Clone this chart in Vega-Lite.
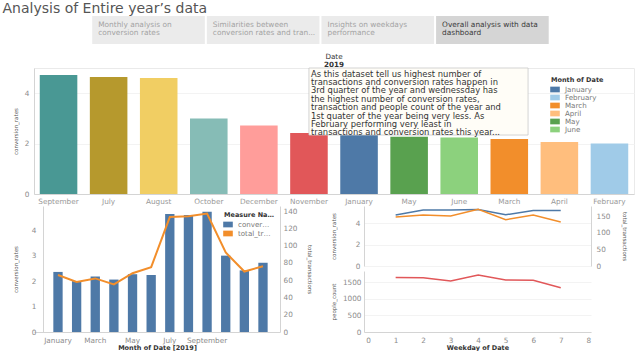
{
  "$schema": "https://vega.github.io/schema/vega-lite/v6.json",
  "padding": {"left": 2, "top": 1, "right": 2, "bottom": 0},
  "title": {"text": "Analysis of Entire year’s data", "anchor": "start", "fontSize": 14, "fontWeight": "normal", "color": "#555555", "dx": -10, "offset": 0},
  "config": {
    "font": "DejaVu Sans",
    "view": {"stroke": null},
    "axis": {"labelFontSize": 7.3, "labelColor": "#8c8c8c", "titleFontSize": 5.5, "titleColor": "#555555", "titleFontWeight": "normal", "ticks": false, "domainColor": "#d4d4d4", "gridColor": "#f3f3f3", "labelPadding": 3},
    "legend": {"titleFontSize": 6.5, "titleFontWeight": "bold", "titleColor": "#333333", "labelFontSize": 7.1, "labelColor": "#777777", "symbolType": "M-1.6,-0.95H1.6V0.95H-1.6Z", "labelOffset": 6},
    "title": {"font": "DejaVu Sans"}
  },
  "resolve": {"scale": {"color": "independent", "fill": "independent"}, "legend": {"color": "independent", "fill": "independent"}},
  "datasets": {
    "tabs": [
      {"label": "Monthly analysis on\nconversion rates", "active": "no"},
      {"label": "Similarities between\nconversion rates and tran...", "active": "no"},
      {"label": "Insights on weekdays\nperformance", "active": "no"},
      {"label": "Overall analysis  with data\ndashboard", "active": "yes"}
    ],
    "note": [
      {"note": "As this dataset tell us highest number of\ntransactions and conversion rates happen in\n3rd quarter of the year and wednessday has\nthe highest number of  conversion rates,\ntransaction and people count of the year and\n1st quater of the year being very less. As\nFebruary performing very least in\ntransactions and conversion rates this year..."}
    ],
    "months": [
      {"month": "January", "conv": 2.36, "trans": 66},
      {"month": "February", "conv": 2.0, "trans": 58},
      {"month": "March", "conv": 2.18, "trans": 62},
      {"month": "April", "conv": 2.06, "trans": 55},
      {"month": "May", "conv": 2.27, "trans": 68},
      {"month": "June", "conv": 2.24, "trans": 75},
      {"month": "July", "conv": 4.64, "trans": 133},
      {"month": "August", "conv": 4.6, "trans": 134},
      {"month": "September", "conv": 4.72, "trans": 137},
      {"month": "October", "conv": 3.0, "trans": 92},
      {"month": "November", "conv": 2.42, "trans": 70},
      {"month": "December", "conv": 2.72, "trans": 76}
    ],
    "weekdays": [
      {"weekday": 1, "conv": 4.78, "trans": 147, "people": 1648},
      {"weekday": 2, "conv": 5.25, "trans": 153, "people": 1638},
      {"weekday": 3, "conv": 5.25, "trans": 150, "people": 1537},
      {"weekday": 4, "conv": 5.3, "trans": 170, "people": 1722},
      {"weekday": 5, "conv": 4.8, "trans": 139, "people": 1571},
      {"weekday": 6, "conv": 5.2, "trans": 153, "people": 1560},
      {"weekday": 7, "conv": 5.2, "trans": 132, "people": 1338}
    ]
  },
  "spacing": 1,
  "vconcat": [
    {
      "width": 600,
      "height": 34,
      "view": {"stroke": "transparent"},
      "data": {"name": "tabs"},
      "encoding": {
        "x": {"field": "label", "type": "nominal", "sort": null, "axis": null, "scale": {"paddingInner": 0.0175, "paddingOuter": 0.6258, "align": 0.4056}}
      },
      "layer": [
        {
          "mark": {"type": "rect"},
          "encoding": {
            "y": {"datum": "row", "type": "nominal", "axis": null, "scale": {"paddingInner": 0, "paddingOuter": 0.107, "align": 0}},
            "fill": {"field": "active", "type": "nominal", "scale": {"domain": ["no", "yes"], "range": ["#ebebeb", "#d5d5d5"]}, "legend": null}
          }
        },
        {
          "mark": {"type": "text", "align": "left", "baseline": "top", "fontSize": 7.4, "lineHeight": 8, "lineBreak": "\n", "dx": 6, "dy": 5},
          "encoding": {
            "x": {"field": "label", "type": "nominal", "sort": null, "bandPosition": 0},
            "y": {"datum": "row", "type": "nominal", "bandPosition": 0},
            "text": {"field": "label"},
            "color": {"field": "active", "type": "nominal", "scale": {"domain": ["no", "yes"], "range": ["#a3a3a3", "#3a3a3a"]}, "legend": null}
          }
        }
      ],
      "resolve": {"scale": {"color": "independent", "fill": "independent"}}
    },
    {
      "width": 600,
      "height": 126,
      "view": {"stroke": "#eaeaea"},
      "title": {"text": "Date", "subtitle": "2019", "anchor": "middle", "frame": "group", "fontSize": 7.2, "fontWeight": "normal", "color": "#333333", "subtitleFontSize": 7.2, "subtitleFontWeight": "bold", "subtitleColor": "#333333", "subtitlePadding": 1, "offset": -1},
      "layer": [
        {
          "data": {"name": "months"},
          "mark": {"type": "bar"},
          "encoding": {
            "x": {"field": "month", "type": "nominal", "sort": ["September", "July", "August", "October", "December", "November", "January", "May", "June", "March", "April", "February"], "scale": {"paddingInner": 0.25, "paddingOuter": 0.115}, "axis": {"title": null, "labelAngle": 0, "labelColor": "#999999", "labelPadding": 3}},
            "y": {"field": "conv", "type": "quantitative", "scale": {"domain": [0, 5], "nice": false}, "axis": {"title": "conversion_rates", "values": [0, 1, 2, 3, 4], "minExtent": 10, "maxExtent": 10, "titlePadding": 6, "labelPadding": 5, "grid": true}},
            "color": {"field": "month", "type": "nominal", "scale": {"domain": ["January", "February", "March", "April", "May", "June", "July", "August", "September", "October", "November", "December"], "range": ["#4e79a7", "#a0cbe8", "#f28e2b", "#ffbe7d", "#59a14f", "#8cd17d", "#b6992d", "#f1ce63", "#499894", "#86bcb6", "#e15759", "#ff9d9a"]}, "legend": {"title": "Month of Date", "orient": "none", "legendX": 517, "legendY": 9, "values": ["January", "February", "March", "April", "May", "June"], "symbolSize": 36, "rowPadding": 0, "titlePadding": 2}}
          }
        },
        {
          "data": {"name": "note"},
          "mark": {"type": "rect", "fill": "#fffdf7", "stroke": "#c8c8c8", "strokeWidth": 0.8},
          "encoding": {
            "x": {"datum": "November", "type": "nominal", "bandPosition": 0.5},
            "x2": {"datum": "March", "bandPosition": 1},
            "y": {"datum": 5, "type": "quantitative"},
            "y2": {"datum": 2.34}
          }
        },
        {
          "data": {"name": "note"},
          "mark": {"type": "text", "align": "left", "baseline": "top", "fontSize": 8.4, "lineHeight": 8.4, "lineBreak": "\n", "color": "#333333", "dx": 2, "dy": 1.5},
          "encoding": {
            "x": {"datum": "November", "type": "nominal", "bandPosition": 0.5},
            "y": {"datum": 5, "type": "quantitative"},
            "text": {"field": "note"}
          }
        }
      ]
    },
    {
      "spacing": 20,
      "resolve": {"scale": {"color": "independent"}, "legend": {"color": "independent"}},
      "hconcat": [
        {
          "width": 246,
          "height": 126,
          "data": {"name": "months"},
          "encoding": {
            "x": {"field": "month", "type": "nominal", "sort": ["January", "February", "March", "April", "May", "June", "July", "August", "September", "October", "November", "December"], "scale": {"paddingInner": 0.5, "paddingOuter": 0.85, "align": 0.61}, "axis": {"title": "Month of Date [2019]", "values": ["January", "March", "May", "July", "September"], "labelAngle": 0, "labelPadding": 4, "titlePadding": 1, "titleFontSize": 6.5, "titleFontWeight": "bold", "titleColor": "#333333"}}
          },
          "layer": [
            {
              "mark": {"type": "bar"},
              "encoding": {
                "y": {"field": "conv", "type": "quantitative", "scale": {"domain": [0, 4.95], "nice": false}, "axis": {"title": "conversion_rates", "values": [0, 1, 2, 3, 4], "offset": -9, "minExtent": 17, "maxExtent": 17, "titlePadding": 8, "labelPadding": 7, "grid": false}},
                "color": {"datum": "conversion_rates", "scale": {"domain": ["conversion_rates", "total_transactions"], "range": ["#4e79a7", "#f28e2b"]}, "legend": {"title": "Measure Names", "orient": "top-right", "offset": 6, "titleLimit": 50, "labelLimit": 33, "symbolSize": 36, "rowPadding": 1, "titlePadding": 2}}
              }
            },
            {
              "mark": {"type": "line", "color": "#f28e2b", "strokeWidth": 2},
              "encoding": {
                "y": {"field": "trans", "type": "quantitative", "scale": {"domain": [0, 145.8], "nice": false}, "axis": {"orient": "right", "title": "total_transactions", "values": [0, 20, 40, 60, 80, 100, 120, 140], "minExtent": 18, "maxExtent": 18, "titlePadding": 8, "labelPadding": 3, "grid": false}}
              }
            }
          ],
          "resolve": {"scale": {"y": "independent"}}
        },
        {
          "spacing": 5,
          "bounds": "flush",
          "vconcat": [
            {
              "width": 227,
              "height": 60,
              "data": {"name": "weekdays"},
              "encoding": {
                "x": {"field": "weekday", "type": "quantitative", "scale": {"domain": [-0.15, 8.1], "nice": false}, "axis": null}
              },
              "layer": [
                {
                  "mark": {"type": "line", "color": "#4e79a7", "strokeWidth": 1.5},
                  "encoding": {
                    "y": {"field": "conv", "type": "quantitative", "scale": {"domain": [0, 5.62], "nice": false}, "axis": {"title": "conversion_rates", "values": [0, 2, 4], "minExtent": 20, "maxExtent": 20, "titlePadding": 8, "labelPadding": 4}}
                  }
                },
                {
                  "mark": {"type": "line", "color": "#f28e2b", "strokeWidth": 1.5},
                  "encoding": {
                    "y": {"field": "trans", "type": "quantitative", "scale": {"domain": [0, 180], "nice": false}, "axis": {"orient": "right", "title": "total_transactions", "values": [0, 50, 100, 150], "minExtent": 22, "maxExtent": 22, "titlePadding": 8, "labelPadding": 5, "grid": false}}
                  }
                }
              ],
              "resolve": {"scale": {"y": "independent"}}
            },
            {
              "width": 227,
              "height": 61,
              "data": {"name": "weekdays"},
              "mark": {"type": "line", "color": "#e15759", "strokeWidth": 1.5},
              "encoding": {
                "x": {"field": "weekday", "type": "quantitative", "scale": {"domain": [-0.15, 8.1], "nice": false}, "axis": {"title": "Weekday of Date", "values": [0, 1, 2, 3, 4, 5, 6, 7, 8], "labelPadding": 4, "titlePadding": 1, "titleFontSize": 6.5, "titleFontWeight": "bold", "titleColor": "#333333", "grid": false}},
                "y": {"field": "people", "type": "quantitative", "scale": {"domain": [0, 1842], "nice": false}, "axis": {"title": "people_count", "values": [0, 500, 1000, 1500], "format": "d", "minExtent": 20, "maxExtent": 20, "titlePadding": 8, "labelPadding": 3}}
              }
            }
          ]
        }
      ]
    }
  ]
}
